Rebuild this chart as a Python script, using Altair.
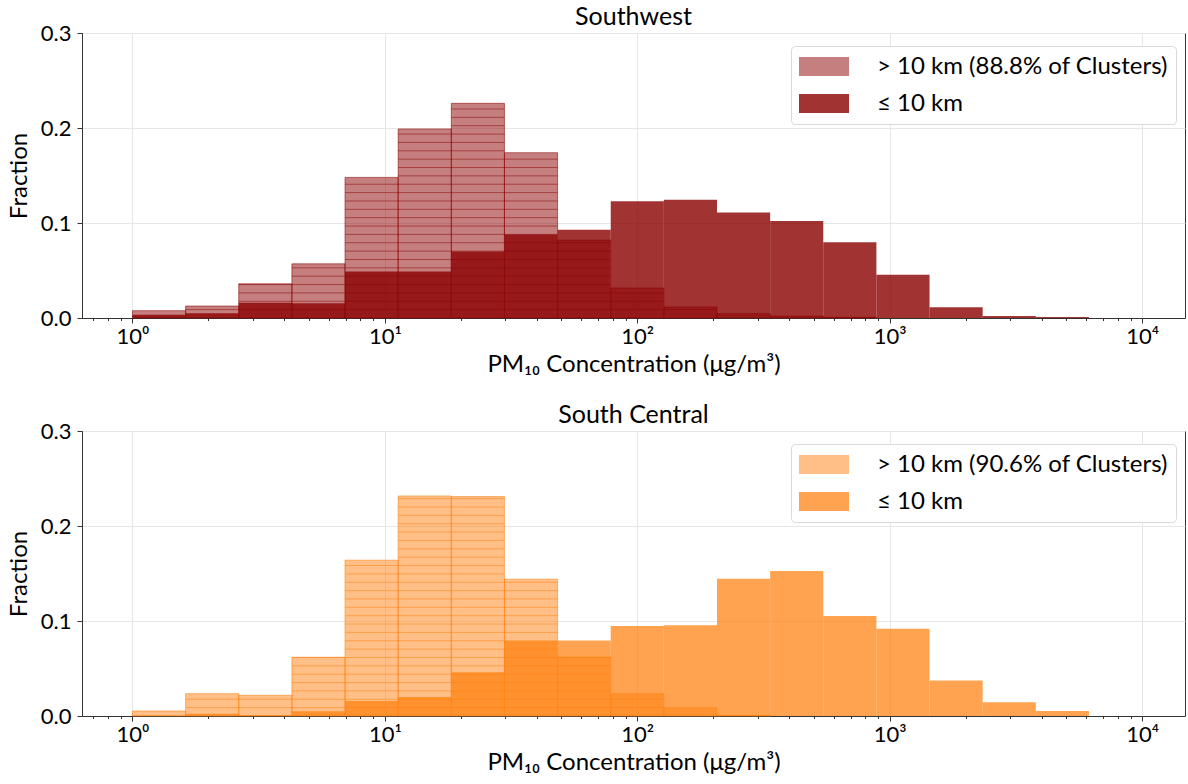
import numpy as np
import pandas as pd
import altair as alt

# ---- data ----
BIN_EDGES = np.logspace(0, 4, 20)          # 19 log-spaced bins, 10^0 .. 10^4

SW_FAR = [0.0077, 0.0126, 0.036, 0.057, 0.148, 0.199, 0.226, 0.174, 0.082, 0.0316,
          0.0116, 0.0046, 0.002, 0.0007, 0.0, 0.0, 0.0, 0.0, 0.0]
SW_NEAR = [0.0035, 0.005, 0.016, 0.0155, 0.049, 0.049, 0.070, 0.088, 0.093, 0.123,
           0.1246, 0.111, 0.102, 0.0797, 0.0456, 0.0112, 0.0021, 0.001, 0.0]
SC_FAR = [0.0053, 0.0235, 0.0218, 0.0618, 0.164, 0.2316, 0.231, 0.144, 0.062, 0.0235,
          0.0088, 0.0007, 0.0, 0.0, 0.0, 0.0, 0.0, 0.0, 0.0]
SC_NEAR = [0.0005, 0.0025, 0.001, 0.005, 0.0158, 0.020, 0.046, 0.079, 0.0796, 0.0947,
           0.0954, 0.1446, 0.1526, 0.1053, 0.0919, 0.0375, 0.0144, 0.0053, 0.0]

TITLES = ["Southwest", "South Central"]
FAR_LABELS = ["> 10 km (88.8% of Clusters)", "> 10 km (90.6% of Clusters)"]
NEAR_LABEL = "≤ 10 km"
X_TITLE = "PM₁₀ Concentration (μg/m³)"
Y_TITLE = "Fraction"

MAJOR_TICKS = [1, 10, 100, 1000, 10000]
MAJOR_LABELS = ["10⁰", "10¹", "10²", "10³", "10⁴"]
MINOR_TICKS = [0.7, 0.8, 0.9,
               2, 3, 4, 5, 6, 7, 8, 9,
               20, 30, 40, 50, 60, 70, 80, 90,
               200, 300, 400, 500, 600, 700, 800, 900,
               2000, 3000, 4000, 5000, 6000, 7000, 8000, 9000]
Y_TICKS = [0.0, 0.1, 0.2, 0.3]

# ---- style ----
FONT = "Lato"
COLORS = ["#8B0000", "#ff7f0e"]
OPACITIES = [[0.5, 0.8], [0.5, 0.72]]
HATCH_STEP = 0.0088
X_DOMAIN = [10 ** -0.2, 10 ** 4.17]
W, H = 1103, 285

label_expr = " : ".join(
    f"datum.value == {v} ? '{l}'" for v, l in zip(MAJOR_TICKS, MAJOR_LABELS)
) + " : ''"
major_test = "indexof([" + ",".join(str(v) for v in MAJOR_TICKS) + "], datum.value) >= 0"

x_axis = alt.Axis(
    values=MAJOR_TICKS + MINOR_TICKS,
    labelExpr=label_expr,
    labelOverlap=False,
    labelFlush=False,
    tickSize={"condition": {"test": major_test, "value": 5}, "value": 2.5},
    gridOpacity={"condition": {"test": major_test, "value": 1}, "value": 0},
    labelPadding=3,
    titlePadding=5,
)
y_axis = alt.Axis(values=Y_TICKS, format=".1f", tickSize=5, labelPadding=6, titlePadding=9)


def panel(title, far, near, color, opac, far_label):
    lo, hi = BIN_EDGES[:-1], BIN_EDGES[1:]
    far_df = pd.DataFrame({"lo": lo, "hi": hi, "value": far, "group": far_label})
    near_df = pd.DataFrame({"lo": lo, "hi": hi, "value": near, "group": NEAR_LABEL})
    rows = []
    for a, b, h in zip(lo, hi, far):
        k = 1
        while k * HATCH_STEP < h:
            rows.append({"lo": a, "hi": b, "value": k * HATCH_STEP})
            k += 1
    hatch_df = pd.DataFrame(rows)

    domain = [far_label, NEAR_LABEL]
    x = alt.X("lo:Q", scale=alt.Scale(type="log", domain=X_DOMAIN, nice=False),
              axis=x_axis, title=X_TITLE)
    x2 = alt.X2("hi:Q")
    y = alt.Y("value:Q", scale=alt.Scale(domain=[0, 0.3], nice=False),
              axis=y_axis, title=Y_TITLE)
    legend = alt.Legend(
        title=None, orient="none", legendX=709, legendY=13,
        symbolType="M-1,-0.76H3V0.76H-1Z", symbolSize=625, symbolStrokeWidth=0,
        labelFont=FONT, labelFontSize=24, labelColor="black", labelLimit=0,
        labelOffset=53, padding=8, rowPadding=12,
        fillColor="white", strokeColor="#d9d9d9", cornerRadius=4,
    )
    col = alt.Color("group:N", scale=alt.Scale(domain=domain, range=[color, color]),
                    legend=legend, title=None)
    op = alt.Opacity("group:N", scale=alt.Scale(domain=domain, range=opac),
                     legend=legend, title=None)

    far_fill = alt.Chart(far_df).mark_rect(strokeWidth=0).encode(
        x=x, x2=x2, y=y, y2=alt.datum(0), color=col, opacity=op)
    far_edge = alt.Chart(far_df[far_df["value"] > 0]).mark_rect(
        fill="transparent", stroke=color, strokeOpacity=0.55, strokeWidth=1
    ).encode(x=x, x2=x2, y=y, y2=alt.datum(0))
    hatch = alt.Chart(hatch_df).mark_rule(
        stroke=color, strokeOpacity=0.5, strokeWidth=1
    ).encode(x=x, x2=x2, y=y)
    near_fill = alt.Chart(near_df).mark_rect(strokeWidth=0).encode(
        x=x, x2=x2, y=y, y2=alt.datum(0), color=col, opacity=op)

    return alt.layer(far_fill, far_edge, hatch, near_fill).properties(
        width=W, height=H,
        title=alt.Title(title, font=FONT, fontSize=25, fontWeight="normal",
                        color="black", offset=-8),
    )


top = panel(TITLES[0], SW_FAR, SW_NEAR, COLORS[0], OPACITIES[0], FAR_LABELS[0])
bottom = panel(TITLES[1], SC_FAR, SC_NEAR, COLORS[1], OPACITIES[1], FAR_LABELS[1])

chart = alt.vconcat(top, bottom, spacing=25).resolve_scale(
    color="independent", opacity="independent"
).resolve_legend(color="independent", opacity="independent").properties(
    padding={"left": 6, "top": 4, "right": 2, "bottom": 0}
).configure_axis(
    labelFont=FONT, titleFont=FONT, labelFontSize=22, titleFontSize=24,
    labelColor="black", titleColor="black", titleFontWeight="normal",
    domainColor="#333333", tickColor="#333333", gridColor="#e6e6e6", gridWidth=1,
).configure_view(stroke="#333333", strokeWidth=1)

chart.save("out.html", embed_options={"renderer": "svg", "actions": False})
